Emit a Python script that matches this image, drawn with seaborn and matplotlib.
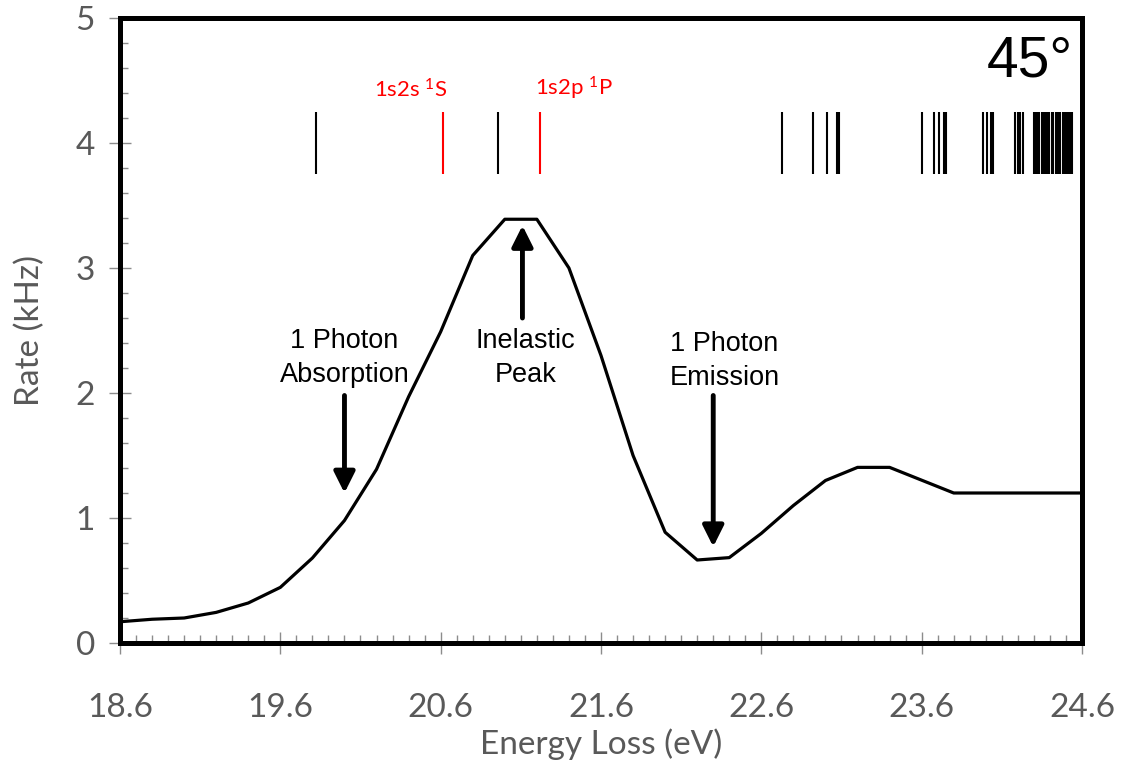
import matplotlib
matplotlib.use("Agg")
import matplotlib.pyplot as plt
from matplotlib.ticker import MultipleLocator
import seaborn as sns
import pandas as pd

# Measured count rate versus electron energy loss
energy = [18.6, 18.8, 19.0, 19.2, 19.4, 19.6, 19.8, 20.0, 20.2, 20.4, 20.6, 20.8,
          21.0, 21.2, 21.4, 21.6, 21.8, 22.0, 22.2, 22.4, 22.6, 22.8, 23.0, 23.2,
          23.4, 23.8, 24.6]
rate = [0.17, 0.19, 0.20, 0.245, 0.32, 0.445, 0.68, 0.98, 1.39, 1.97, 2.49, 3.10,
        3.39, 3.39, 3.00, 2.30, 1.50, 0.886, 0.664, 0.683, 0.877, 1.10, 1.30, 1.405,
        1.405, 1.20, 1.20]

# Excited-state energies of helium (eV)
levels_black = [19.82, 20.96, 22.73, 22.925, 23.01, 23.075, 23.085,
                23.60, 23.68, 23.71, 23.74, 23.75,
                23.98, 24.01, 24.03, 24.045,
                24.18, 24.20, 24.215, 24.23,
                24.30, 24.31, 24.32, 24.33,
                24.35, 24.36, 24.37, 24.38, 24.395, 24.41,
                24.42, 24.435, 24.45, 24.46,
                24.48, 24.49, 24.50, 24.51, 24.52, 24.53, 24.54]
levels_red = [20.615, 21.22]
level_labels = ["1s2s $^1$S", "1s2p $^1$P"]

x_ticks = [18.6, 19.6, 20.6, 21.6, 22.6, 23.6, 24.6]
y_ticks = [0, 1, 2, 3, 4, 5]

sns.set_theme(style="white")
plt.rcParams["font.family"] = ["Lato", "DejaVu Sans"]
plt.rcParams["mathtext.fontset"] = "custom"
plt.rcParams["mathtext.rm"] = "Lato"
plt.rcParams["mathtext.it"] = "Lato:italic"
plt.rcParams["mathtext.bf"] = "Lato:bold"

fig = plt.figure(figsize=(11.25, 7.67), dpi=100)
ax = fig.add_axes([120 / 1125, 1 - 643 / 767, (1082 - 120) / 1125, (643 - 18) / 767])

df = pd.DataFrame({"energy": energy, "rate": rate})
sns.lineplot(data=df, x="energy", y="rate", ax=ax, color="black", linewidth=2.3,
             zorder=3)

# Level markers
ax.vlines(levels_black, 3.75, 4.25, colors="black", linewidth=1.5, zorder=2)
ax.vlines(levels_red, 3.75, 4.25, colors="#ff0000", linewidth=1.5, zorder=2)
ax.text(levels_red[0] + 0.03, 4.33, level_labels[0], color="#ff0000",
        fontsize=16, ha="right", va="bottom")
ax.text(levels_red[1] - 0.03, 4.33, level_labels[1], color="#ff0000",
        fontsize=16, ha="left", va="bottom")

arial = ["Liberation Sans", "DejaVu Sans"]
ax.text(24.54, 4.65, "45°", family=arial, fontsize=41, ha="right", va="center",
        color="black")

arrow = dict(arrowstyle="-|>,head_length=0.7,head_width=0.35", color="black",
             linewidth=3.5, mutation_scale=18, shrinkA=0, shrinkB=0)
ax.annotate("", xy=(20.0, 1.2), xytext=(20.0, 1.98), arrowprops=arrow)
ax.annotate("", xy=(21.11, 3.34), xytext=(21.11, 2.6), arrowprops=arrow)
ax.annotate("", xy=(22.3, 0.77), xytext=(22.3, 1.98), arrowprops=arrow)

note = dict(family=arial, fontsize=19.5, ha="center", va="center",
            linespacing=1.4, color="black")
ax.text(20.0, 2.28, "1 Photon\nAbsorption", **note)
ax.text(21.13, 2.28, "Inelastic\nPeak", **note)
ax.text(22.37, 2.26, "1 Photon\nEmission", **note)

ax.set_xlim(18.6, 24.6)
ax.set_ylim(0, 5)
ax.set_xticks(x_ticks)
ax.set_xticklabels([f"{v:.1f}" for v in x_ticks])
ax.set_yticks(y_ticks)
ax.xaxis.set_minor_locator(MultipleLocator(0.1))
ax.yaxis.set_minor_locator(MultipleLocator(0.2))

grey = "#595959"
tick_grey = "#8c8c8c"
ax.tick_params(axis="both", which="major", direction="inout", length=16, width=1,
               color=tick_grey, labelcolor=grey, labelsize=24)
ax.tick_params(axis="both", which="minor", direction="in", length=6, width=1,
               color=tick_grey)
ax.tick_params(axis="x", which="major", pad=28)
ax.tick_params(axis="y", which="major", pad=10)
ax.tick_params(bottom=True, left=True, which="both")

ax.set_xlabel("Energy Loss (eV)", fontsize=24, color=grey, labelpad=4)
ax.set_ylabel("Rate (kHz)", fontsize=24, color=grey, labelpad=22)

for side in ax.spines.values():
    side.set_visible(True)
    side.set_color("black")
    side.set_linewidth(3.6)
    side.set_zorder(5)

fig.savefig("out.png", dpi=100, facecolor="white")
